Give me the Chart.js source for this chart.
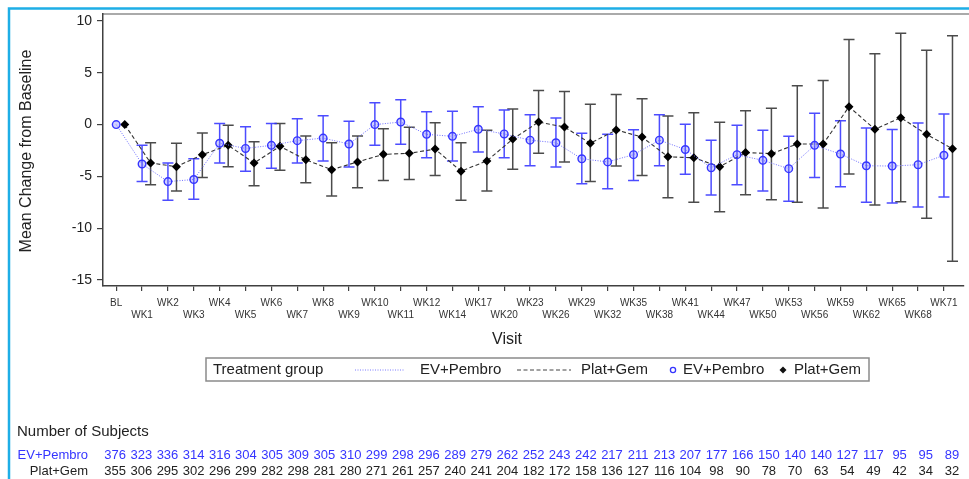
<!DOCTYPE html>
<html>
<head>
<meta charset="utf-8">
<script src="https://cdn.jsdelivr.net/npm/chart.js@4.4.1/dist/chart.umd.min.js"></script>
<style>
  html, body { margin: 0; padding: 0; background: #fff; }
  #wrap { position: relative; width: 969px; height: 479px; }
</style>
</head>
<body>
<div id="wrap"><canvas id="chart" width="969" height="479"></canvas></div>
<script>
// --- Data ---
const visits = ['BL', 'WK1', 'WK2', 'WK3', 'WK4', 'WK5', 'WK6', 'WK7', 'WK8', 'WK9', 'WK10', 'WK11', 'WK12',
    'WK14', 'WK17', 'WK20', 'WK23', 'WK26', 'WK29', 'WK32', 'WK35', 'WK38', 'WK41', 'WK44', 'WK47',
    'WK50', 'WK53', 'WK56', 'WK59', 'WK62', 'WK65', 'WK68', 'WK71'];

const evMean = [0, -3.8, -5.5, -5.3, -1.8, -2.3, -2.0, -1.55, -1.3, -1.87, 0.0, 0.25, -0.94,
    -1.13, -0.45, -0.9, -1.5, -1.75, -3.3, -3.6, -2.9, -1.5, -2.4, -4.16, -2.9,
    -3.45, -4.25, -2.0, -2.84, -3.97, -4.0, -3.87, -2.96];
const evUpper = [null, -2.0, -3.7, -3.3, 0.1, -0.2, 0.1, 0.57, 0.86, 0.32, 2.1, 2.4, 1.25,
    1.28, 1.73, 1.4, 0.96, 0.64, -0.84, -0.94, -0.5, 0.96, 0.03, -1.5, -0.07,
    -0.55, -1.13, 1.09, 0.38, -0.33, -0.46, 0.15, 1.02];
const evLower = [null, -5.5, -7.3, -7.2, -3.7, -4.5, -4.2, -3.7, -3.5, -4.1, -2.0, -1.9, -3.2,
    -3.5, -2.65, -3.2, -3.97, -4.1, -5.7, -6.2, -5.4, -3.97, -4.8, -6.8, -5.8,
    -6.4, -7.4, -5.1, -6.0, -7.5, -7.57, -7.95, -6.99];

const pgMean = [0, -3.7, -4.06, -2.9, -2.0, -3.7, -2.1, -3.4, -4.35, -3.6, -2.87, -2.77, -2.36,
    -4.5, -3.5, -1.4, 0.25, -0.23, -1.8, -0.52, -1.2, -3.1, -3.2, -4.06, -2.7,
    -2.8, -1.87, -1.87, 1.73, -0.45, 0.67, -0.94, -2.33];
const pgUpper = [null, -1.75, -1.8, -0.8, -0.07, -1.65, 0.1, -1.1, -1.75, -1.1, -0.4, -0.26, 0.18,
    -1.75, -0.55, 1.5, 3.3, 3.2, 1.96, 2.9, 2.5, 0.83, 1.15, 0.22, 1.34,
    1.57, 3.76, 4.27, 8.23, 6.84, 8.81, 7.17, 8.58];
const pgLower = [null, -5.8, -6.4, -5.1, -4.06, -5.9, -4.4, -5.6, -6.9, -6.1, -5.4, -5.3, -4.9,
    -7.3, -6.4, -4.3, -2.77, -3.6, -5.5, -4.0, -4.9, -7.06, -7.5, -8.4, -6.77,
    -7.25, -7.5, -8.05, -4.77, -7.76, -7.44, -9.05, -13.2];

const evCounts = [376, 323, 336, 314, 316, 304, 305, 309, 305, 310, 299, 298, 296, 289, 279, 262, 252,
    243, 242, 217, 211, 213, 207, 177, 166, 150, 140, 140, 127, 117, 95, 95, 89];
const pgCounts = [355, 306, 295, 302, 296, 299, 282, 298, 281, 280, 271, 261, 257, 240, 241, 204, 182,
    172, 158, 136, 127, 116, 104, 98, 90, 78, 70, 63, 54, 49, 42, 34, 32];

// --- Styling ---
const FONT = '"Liberation Sans", Arial, sans-serif';
const BLUE = '#3535ff';
const DARK = '#222222';
const PG_OFFSET = 0.33; // Plat+Gem drawn slightly right of the visit tick

const evPoints = evMean.map((v, i) => ({ x: i, y: v }));
const pgPoints = pgMean.map((v, i) => ({ x: i + PG_OFFSET, y: v }));

// --- Plugins ---
const frame = {
    id: 'frame',
    beforeDraw(chart) {
        const { ctx, chartArea } = chart;
        ctx.save();
        ctx.fillStyle = '#fff';
        ctx.fillRect(0, 0, chart.width, chart.height);
        // outer cyan border
        ctx.strokeStyle = '#1eaee6';
        ctx.lineWidth = 2.5;
        ctx.beginPath();
        ctx.moveTo(9, chart.height);
        ctx.lineTo(9, 8.5);
        ctx.lineTo(chart.width, 8.5);
        ctx.stroke();
        // gray top of the plot frame
        ctx.strokeStyle = '#aaaaaa';
        ctx.lineWidth = 2;
        ctx.beginPath();
        ctx.moveTo(chartArea.left, chartArea.top);
        ctx.lineTo(chart.width, chartArea.top);
        ctx.stroke();
        ctx.restore();
    }
};

const errorBars = {
    id: 'errorBars',
    beforeDatasetsDraw(chart) {
        const { ctx, scales: { x, y } } = chart;
        const draw = (offset, lower, upper, color) => {
            ctx.save();
            ctx.strokeStyle = color;
            ctx.lineWidth = 1.5;
            lower.forEach((lo, i) => {
                if (lo === null) return;
                const px = x.getPixelForValue(i + offset);
                const yl = y.getPixelForValue(lo);
                const yu = y.getPixelForValue(upper[i]);
                ctx.beginPath();
                ctx.moveTo(px, yu); ctx.lineTo(px, yl);
                ctx.moveTo(px - 5.5, yu); ctx.lineTo(px + 5.5, yu);
                ctx.moveTo(px - 5.5, yl); ctx.lineTo(px + 5.5, yl);
                ctx.stroke();
            });
            ctx.restore();
        };
        draw(PG_OFFSET, pgLower, pgUpper, 'rgba(30,30,30,0.8)');
        draw(0, evLower, evUpper, 'rgba(45,45,255,0.85)');
    }
};

const annotations = {
    id: 'annotations',
    afterDraw(chart) {
        const { ctx, scales: { x } } = chart;
        ctx.save();
        ctx.textBaseline = 'middle';

        // axis titles
        ctx.fillStyle = DARK;
        ctx.font = '16px ' + FONT;
        ctx.textAlign = 'center';
        ctx.fillText('Visit', 507, 340);
        ctx.save();
        ctx.translate(27, 151);
        ctx.rotate(-Math.PI / 2);
        ctx.fillText('Mean Change from Baseline', 0, 0);
        ctx.restore();

        // legend box
        ctx.strokeStyle = '#8a8a8a';
        ctx.lineWidth = 1.5;
        ctx.strokeRect(206, 358, 663, 23);
        const ly = 370;
        ctx.font = '15px ' + FONT;
        ctx.textAlign = 'left';
        ctx.fillStyle = DARK;
        ctx.fillText('Treatment group', 213, ly);
        // dotted line sample
        ctx.strokeStyle = '#7a7aff';
        ctx.lineWidth = 1;
        ctx.setLineDash([1, 1.5]);
        ctx.beginPath(); ctx.moveTo(355, ly); ctx.lineTo(405, ly); ctx.stroke();
        ctx.fillText('EV+Pembro', 420, ly);
        // dashed line sample
        ctx.strokeStyle = '#444';
        ctx.setLineDash([4, 2.5]);
        ctx.beginPath(); ctx.moveTo(517, ly); ctx.lineTo(571, ly); ctx.stroke();
        ctx.setLineDash([]);
        ctx.fillText('Plat+Gem', 581, ly);
        // circle marker
        ctx.strokeStyle = BLUE;
        ctx.lineWidth = 1.3;
        ctx.beginPath(); ctx.arc(673, ly, 2.6, 0, Math.PI * 2); ctx.stroke();
        ctx.fillText('EV+Pembro', 683, ly);
        // diamond marker
        ctx.fillStyle = '#111';
        ctx.beginPath();
        ctx.moveTo(783, ly - 3.5); ctx.lineTo(786.5, ly); ctx.lineTo(783, ly + 3.5); ctx.lineTo(779.5, ly);
        ctx.closePath(); ctx.fill();
        ctx.fillStyle = DARK;
        ctx.fillText('Plat+Gem', 794, ly);

        // number of subjects
        ctx.fillText('Number of Subjects', 17, 432);
        ctx.font = '13px ' + FONT;
        ctx.textAlign = 'right';
        ctx.fillStyle = BLUE;
        ctx.fillText('EV+Pembro', 88, 455);
        ctx.fillStyle = DARK;
        ctx.fillText('Plat+Gem', 88, 471);
        ctx.textAlign = 'center';
        visits.forEach((v, i) => {
            const px = x.getPixelForValue(i) - 1 + 0.28 * i;
            ctx.fillStyle = BLUE;
            ctx.fillText(String(evCounts[i]), px, 455);
            ctx.fillStyle = DARK;
            ctx.fillText(String(pgCounts[i]), px, 471);
        });
        ctx.restore();
    }
};

// --- Chart ---
const ctx = document.getElementById('chart').getContext('2d');
new Chart(ctx, {
    type: 'line',
    data: {
        datasets: [
            {
                label: 'EV+Pembro',
                data: evPoints,
                borderColor: '#7070ff',
                borderWidth: 1,
                borderDash: [1, 1.5],
                pointStyle: 'circle',
                pointRadius: 3.8,
                pointBorderWidth: 1.4,
                pointBorderColor: BLUE,
                pointBackgroundColor: 'rgba(120,120,255,0.35)',
                tension: 0
            },
            {
                label: 'Plat+Gem',
                data: pgPoints,
                borderColor: '#333',
                borderWidth: 1.1,
                borderDash: [4, 2.5],
                pointStyle: 'rectRot',
                pointRadius: 4.5,
                pointBorderWidth: 0,
                pointBackgroundColor: '#000',
                tension: 0
            }
        ]
    },
    options: {
        responsive: false,
        animation: false,
        devicePixelRatio: 1,
        layout: { padding: { left: 0, right: 0, top: 14, bottom: 129 } },
        plugins: {
            legend: { display: false },
            tooltip: { enabled: false }
        },
        scales: {
            x: {
                type: 'linear',
                min: -0.51,
                max: 32.76,
                afterFit: (scale) => { scale.height = 64; },
                border: { display: true, color: '#404040', width: 1.5 },
                grid: { display: true, drawOnChartArea: false, drawTicks: true, tickLength: 5, color: '#404040', lineWidth: 1.2 },
                ticks: {
                    stepSize: 1,
                    includeBounds: false,
                    autoSkip: false,
                    maxRotation: 0,
                    minRotation: 0,
                    padding: 6,
                    color: '#333',
                    font: { family: FONT, size: 10, lineHeight: 1.2 },
                    callback: (value) => {
                        if (!Number.isInteger(value) || !visits[value]) return '';
                        return value % 2 ? ['', visits[value]] : visits[value];
                    }
                }
            },
            y: {
                min: -15.58,
                max: 10.68,
                afterFit: (scale) => { scale.width = 103; },
                border: { display: true, color: '#404040', width: 1.5 },
                grid: { display: true, drawOnChartArea: false, drawTicks: true, tickLength: 6, color: '#404040', lineWidth: 1.2 },
                ticks: {
                    stepSize: 5,
                    includeBounds: false,
                    padding: 5,
                    color: DARK,
                    font: { family: FONT, size: 14 },
                    callback: (v) => String(v)
                }
            }
        }
    },
    plugins: [frame, errorBars, annotations]
});
</script>
</body>
</html>
